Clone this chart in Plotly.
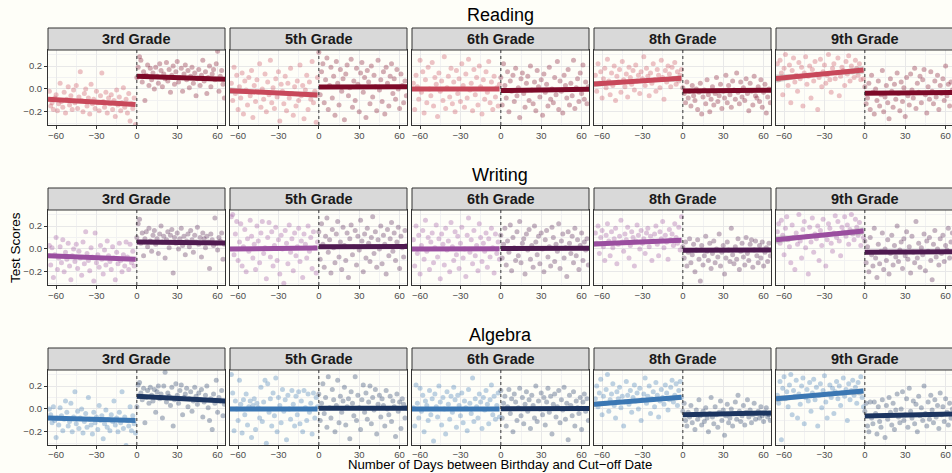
import numpy as np
import plotly.graph_objects as go

# ---------------- data ----------------
subjects = ["Reading", "Writing", "Algebra"]
grades = ["3rd Grade", "5th Grade", "6th Grade", "8th Grade", "9th Grade"]
x_tick_vals = [-60, -30, 0, 30, 60]
x_tick_text = ["\u221260", "\u221230", "0", "30", "60"]
y_tick_vals = [-0.2, 0.0, 0.2]
y_tick_text = ["\u22120.2", "0.0", "0.2"]
days_left = list(range(-65, 0))
days_right = list(range(0, 66))

# scatter values (one point per day), left = before cut-off, right = after
R3L = [-0.02,-0.15,-0.12,-0.18,-0.08,-0.05,-0.19,-0.13,0.05,-0.11,-0.16,-0.03,-0.21,-0.09,0.02,-0.14,-0.06,-0.18,-0.01,-0.12,0.03,-0.17,-0.07,0.15,-0.10,-0.20,-0.04,0.00,-0.15,-0.08,-0.22,0.04,-0.13,-0.09,-0.17,-0.02,-0.12,-0.19,-0.06,0.14,-0.11,-0.16,-0.03,-0.21,-0.08,-0.13,-0.05,-0.18,-0.10,-0.24,-0.01,-0.14,-0.07,-0.19,-0.12,0.01,-0.16,-0.09,-0.21,-0.04,-0.28,-0.13,-0.17,-0.08,-0.31]
R3R = [0.10,0.19,0.28,0.25,0.06,0.15,-0.10,0.12,0.21,0.03,0.18,0.08,0.14,0.00,0.19,0.11,0.05,0.22,0.16,0.02,0.13,0.09,0.23,0.07,0.17,-0.03,0.12,0.20,0.04,0.15,0.24,0.06,0.10,0.18,-0.02,0.13,0.21,0.08,0.16,0.01,0.11,0.19,0.05,0.14,-0.06,0.09,0.17,0.03,0.12,0.25,0.07,0.15,-0.04,0.10,0.20,0.02,0.13,0.17,0.08,0.22,0.33,-0.02,0.11,0.16,0.04,-0.08]
R5L = [0.05,-0.10,0.19,-0.04,0.12,-0.18,0.02,-0.08,0.14,-0.22,0.07,-0.01,-0.14,0.10,-0.06,0.16,-0.25,0.03,-0.11,0.08,-0.03,0.22,-0.16,0.00,-0.09,0.13,-0.20,0.06,-0.05,0.25,-0.12,0.01,-0.17,0.09,-0.07,0.15,-0.28,0.04,-0.02,-0.13,0.11,-0.19,0.05,-0.08,0.18,-0.04,-0.23,0.02,-0.15,0.07,-0.10,0.21,-0.06,0.03,-0.26,-0.01,0.12,-0.18,0.06,-0.09,0.24,-0.12,-0.02,-0.29,0.10]
R5R = [0.32,-0.05,0.15,0.22,-0.12,0.08,0.27,-0.18,0.03,0.19,-0.08,0.11,-0.23,0.24,0.05,-0.14,0.17,-0.02,0.09,-0.27,0.13,0.21,-0.06,0.01,0.26,-0.16,0.07,-0.10,0.18,0.04,-0.20,0.14,0.23,-0.03,0.10,-0.25,0.16,0.06,-0.13,0.20,-0.07,0.12,0.02,-0.19,0.25,-0.01,0.08,-0.11,0.15,-0.22,0.19,0.05,-0.15,0.11,0.22,-0.04,0.09,-0.09,0.17,0.00,-0.17,0.13,0.03,-0.12,0.07,-0.06]
R6L = [0.05,-0.18,0.12,0.02,-0.09,0.25,-0.03,0.15,-0.21,0.08,-0.12,0.19,0.00,-0.06,0.23,-0.15,0.10,0.04,-0.24,0.14,-0.02,0.07,-0.10,0.28,-0.17,0.01,0.11,-0.07,0.18,-0.13,0.06,-0.20,0.16,-0.04,0.09,-0.11,0.22,0.03,-0.16,0.13,-0.08,0.26,-0.01,0.05,-0.19,0.17,-0.05,0.10,-0.14,0.20,0.02,-0.22,0.08,-0.09,0.15,-0.03,0.24,-0.12,0.06,-0.18,0.11,-0.07,0.01,-0.15,0.04]
R6R = [0.10,-0.14,0.22,0.03,-0.08,0.15,-0.20,0.07,-0.02,0.12,-0.11,0.18,-0.06,0.01,-0.25,0.09,0.14,-0.04,-0.16,0.05,0.11,-0.10,0.20,-0.01,-0.13,0.06,-0.19,0.16,0.02,-0.07,0.08,-0.23,0.13,-0.03,0.04,-0.15,0.19,-0.09,0.00,-0.12,0.10,-0.05,0.24,-0.18,0.07,-0.02,-0.21,0.12,0.03,-0.08,0.17,-0.14,0.05,-0.06,0.25,-0.17,0.01,0.09,-0.11,0.14,-0.04,0.21,-0.09,0.06,-0.13,0.02]
R8L = [0.12,-0.02,0.22,0.05,0.15,-0.08,0.09,0.18,0.01,0.26,0.07,-0.05,0.14,0.03,0.20,-0.10,0.11,0.06,0.17,-0.03,0.24,0.08,0.02,0.13,-0.07,0.19,0.10,0.04,0.16,-0.01,0.21,0.07,0.12,-0.04,0.15,0.09,0.28,0.03,0.18,0.11,-0.06,0.14,0.05,0.22,0.08,-0.02,0.17,0.12,0.01,0.25,0.10,-0.09,0.16,0.06,0.20,0.13,0.02,0.19,0.09,0.23,0.04,0.15,0.07,0.12,0.17]
R8R = [0.01,-0.04,-0.12,0.06,-0.08,-0.02,-0.15,0.03,-0.06,-0.10,0.00,-0.18,-0.03,0.05,-0.22,-0.07,-0.01,-0.13,0.08,-0.05,-0.20,-0.09,0.02,-0.14,-0.04,0.10,-0.11,-0.06,0.04,-0.17,-0.02,-0.08,0.12,-0.12,0.03,-0.05,-0.16,0.07,-0.01,-0.09,0.14,-0.03,-0.13,0.06,-0.07,0.01,-0.10,0.09,-0.04,-0.19,0.05,-0.02,-0.14,0.11,-0.06,-0.08,0.02,-0.11,0.08,-0.16,-0.03,0.04,-0.21,-0.07,0.00,-0.12]
R9L = [0.22,0.08,0.25,0.14,-0.05,0.18,0.30,0.10,0.03,0.21,-0.12,0.16,0.27,0.06,0.12,-0.02,0.23,0.09,0.19,-0.15,0.14,0.28,0.04,0.11,0.20,-0.08,0.17,0.07,0.24,0.13,-0.18,0.10,0.26,0.02,0.15,0.21,0.05,0.12,0.30,0.08,-0.03,0.18,0.22,0.09,0.14,0.27,-0.06,0.11,0.19,0.16,0.03,0.24,0.13,0.29,0.07,0.20,0.15,0.10,0.25,0.18,0.12,0.22,0.08,0.16,0.09]
R9R = [0.02,-0.13,-0.08,0.05,-0.18,0.12,-0.03,-0.22,0.00,-0.10,0.07,-0.15,-0.05,0.16,-0.20,-0.07,0.03,-0.12,-0.26,0.09,-0.02,-0.16,0.04,-0.09,0.14,-0.04,-0.19,0.06,-0.11,0.01,-0.24,0.10,-0.06,-0.14,0.13,-0.01,-0.08,0.18,-0.17,0.05,-0.03,0.11,-0.12,0.08,0.17,-0.05,-0.21,0.02,-0.09,0.15,-0.02,-0.13,0.07,-0.07,0.12,-0.18,0.03,-0.04,0.09,-0.10,0.20,-0.06,0.04,-0.15,0.06,-0.01]

W3L = [0.03,-0.14,0.01,-0.25,-0.05,0.10,-0.18,-0.08,0.02,-0.12,0.08,-0.20,-0.03,-0.09,0.05,-0.15,-0.27,-0.06,0.00,-0.11,0.04,-0.17,-0.02,-0.08,-0.23,0.06,-0.13,0.15,-0.04,-0.10,-0.19,0.01,-0.07,-0.28,0.14,-0.12,-0.05,-0.16,0.03,-0.09,-0.22,-0.01,-0.14,0.07,-0.06,-0.11,-0.18,0.02,-0.08,-0.27,-0.03,-0.13,0.05,-0.10,-0.20,-0.05,-0.15,0.06,-0.07,-0.18,0.04,-0.12,-0.02,-0.15,-0.09]
W3R = [0.10,0.22,0.26,0.05,0.14,-0.06,0.09,0.15,0.02,0.18,0.07,-0.02,0.12,0.16,0.04,0.09,-0.04,0.13,0.20,0.06,0.11,-0.08,0.08,0.15,0.01,0.12,0.17,-0.21,0.10,0.05,0.14,0.00,0.09,0.18,0.03,0.11,-0.05,0.07,0.13,0.02,0.16,0.08,-0.03,0.12,0.06,0.19,0.04,0.10,-0.07,0.14,0.09,0.01,0.11,0.06,-0.17,0.13,0.08,0.03,0.27,0.05,-0.01,0.10,0.07,0.14,-0.09,0.04]
W5L = [0.28,0.30,-0.05,0.13,0.24,-0.10,0.06,0.22,-0.15,0.02,0.17,-0.20,0.09,-0.02,0.25,0.11,-0.08,0.04,-0.18,0.20,0.07,-0.12,0.14,0.24,-0.04,0.01,-0.26,0.10,0.23,-0.07,0.15,-0.15,0.03,0.19,-0.10,0.08,-0.22,0.12,0.00,-0.30,0.16,0.05,-0.13,0.21,-0.03,0.09,-0.19,0.14,-0.06,0.02,0.18,-0.11,0.07,-0.25,0.13,0.04,-0.08,0.20,-0.02,0.10,-0.17,0.15,0.01,-0.21,0.06]
W5R = [0.15,-0.09,0.22,0.04,-0.16,0.11,0.27,-0.03,0.08,-0.21,0.17,0.01,-0.12,0.13,0.24,-0.07,0.06,-0.18,0.19,0.03,-0.10,0.14,-0.25,0.09,0.21,-0.05,0.02,0.16,-0.14,0.11,-0.01,0.25,0.07,-0.20,0.13,-0.08,0.18,0.05,-0.11,0.10,0.28,-0.04,0.15,-0.16,0.08,0.00,0.20,-0.13,0.12,0.04,-0.22,0.17,-0.06,0.09,0.23,-0.02,0.14,-0.10,0.06,0.19,-0.17,0.11,0.01,-0.07,0.16,0.03]
W6L = [0.08,-0.15,0.20,-0.04,0.12,-0.22,0.03,0.16,-0.09,0.25,-0.02,0.10,-0.18,0.06,0.14,-0.12,0.01,0.21,-0.07,0.09,-0.26,0.13,0.04,-0.14,0.18,-0.01,0.07,-0.20,0.23,0.02,-0.10,0.15,-0.05,0.11,-0.17,0.05,0.19,-0.08,0.00,-0.24,0.12,0.27,-0.03,0.08,-0.13,0.16,-0.06,0.03,-0.19,0.22,0.10,-0.11,0.05,-0.02,0.14,-0.16,0.09,-0.07,0.18,0.01,-0.21,0.13,-0.04,0.06,-0.09]
W6R = [0.12,-0.08,0.04,0.18,-0.14,0.07,-0.03,0.21,-0.19,0.10,0.01,-0.10,0.15,-0.06,0.24,-0.12,0.05,0.09,-0.22,0.13,-0.01,0.17,-0.09,0.03,-0.16,0.20,0.06,-0.05,0.11,-0.13,0.14,0.00,-0.20,0.08,0.16,-0.07,0.02,-0.15,0.19,0.10,-0.11,0.04,-0.02,0.22,-0.17,0.07,0.13,-0.08,0.01,-0.24,0.15,0.05,-0.04,0.11,-0.12,0.18,-0.06,0.08,-0.18,0.03,0.14,-0.10,0.06,-0.01,0.09,-0.14]
W8L = [0.14,0.05,0.20,-0.04,0.10,0.16,0.02,-0.10,0.12,0.22,0.07,-0.06,0.15,0.01,0.09,0.18,-0.13,0.04,0.11,0.25,0.06,-0.02,0.13,0.08,0.19,-0.08,0.03,0.15,0.10,-0.15,0.07,0.21,0.12,0.00,0.16,0.05,0.09,-0.04,0.14,0.18,0.02,0.11,-0.10,0.07,0.13,0.20,0.04,-0.06,0.15,0.09,0.24,0.01,0.12,0.06,-0.09,0.17,0.08,0.13,0.03,0.22,0.10,0.05,0.19,-0.01,0.28]
W8R = [0.02,-0.08,0.06,-0.15,-0.03,0.09,-0.12,-0.05,0.04,-0.20,-0.01,0.08,-0.09,-0.28,0.03,-0.14,-0.06,0.11,-0.02,-0.10,0.05,-0.17,-0.04,0.07,-0.12,0.00,-0.07,0.13,-0.15,-0.03,0.03,-0.22,-0.08,0.06,-0.01,-0.11,0.18,-0.05,-0.13,0.02,-0.09,0.09,-0.18,-0.02,0.05,-0.07,-0.14,0.10,-0.04,-0.10,0.04,0.08,-0.16,-0.01,0.07,-0.06,-0.12,0.03,-0.08,0.06,-0.15,-0.03,0.01,-0.11,0.05,-0.06]
W9L = [0.15,0.22,0.05,0.25,0.12,-0.05,0.18,0.28,0.08,0.02,-0.12,0.21,0.10,-0.18,0.14,0.04,0.30,0.07,-0.08,0.17,0.24,0.01,0.11,-0.22,0.19,0.06,0.27,-0.03,0.13,0.09,0.20,-0.10,0.16,0.03,0.26,0.12,-0.15,0.08,0.22,0.18,0.05,-0.02,0.14,0.29,0.10,0.24,0.07,-0.06,0.19,0.15,0.28,0.11,0.21,0.04,0.17,0.30,0.13,0.08,0.26,0.19,0.12,0.23,0.03,0.16,0.10]
W9R = [0.07,-0.12,0.02,-0.20,0.10,-0.05,-0.15,0.18,-0.08,-0.25,0.04,-0.13,-0.02,0.14,-0.18,0.00,-0.10,0.08,-0.22,-0.04,0.12,-0.14,0.03,-0.07,0.20,-0.11,-0.01,0.06,-0.17,0.09,-0.06,0.15,-0.09,0.02,-0.21,0.11,-0.03,-0.12,0.24,-0.08,0.05,-0.16,0.01,-0.05,0.13,-0.19,0.07,-0.02,0.10,-0.10,-0.27,0.04,0.16,-0.07,0.00,-0.14,0.09,-0.04,0.12,-0.11,0.03,-0.01,0.18,-0.08,0.06,0.14]

A3L = [0.00,-0.05,-0.12,0.02,-0.10,-0.25,-0.08,-0.14,0.01,-0.06,-0.19,-0.09,0.07,-0.03,-0.15,-0.11,0.05,-0.20,-0.07,0.15,-0.13,-0.02,-0.17,-0.08,0.00,-0.21,-0.11,-0.04,-0.16,0.10,-0.09,-0.14,-0.22,-0.03,-0.12,-0.07,-0.18,0.03,-0.10,-0.06,-0.26,-0.13,-0.01,-0.16,-0.09,-0.19,-0.05,-0.11,0.07,-0.14,-0.08,-0.20,-0.03,-0.12,0.15,-0.17,-0.07,-0.32,-0.10,-0.15,0.02,-0.19,-0.06,-0.13,-0.21]
A3R = [0.02,0.21,0.23,0.14,0.08,0.18,-0.12,0.10,0.16,0.05,0.19,0.12,0.07,0.17,-0.03,0.15,0.20,0.09,0.13,-0.08,0.20,0.32,0.06,0.14,0.11,0.03,0.19,-0.15,0.08,0.22,0.12,0.05,0.16,0.21,-0.05,0.10,0.13,0.18,0.02,0.09,0.15,-0.02,0.07,0.19,0.11,0.04,0.14,0.08,0.17,-0.07,0.06,0.12,0.20,0.01,-0.10,0.09,-0.18,0.13,0.05,0.25,-0.03,0.10,0.07,0.16,-0.06,0.04]
A5L = [0.30,0.14,-0.19,0.07,0.00,-0.10,0.25,0.04,-0.21,0.08,-0.05,0.13,-0.14,0.02,0.07,-0.25,0.03,0.09,-0.18,0.05,0.01,-0.08,0.19,-0.11,0.06,0.25,-0.30,0.22,-0.03,0.09,-0.15,0.14,-0.06,0.27,-0.20,0.10,0.03,-0.12,0.17,-0.02,0.08,-0.27,0.12,0.00,-0.09,0.16,0.04,-0.15,0.11,-0.05,0.15,-0.13,0.07,-0.20,0.16,0.01,-0.10,0.13,-0.03,0.05,-0.22,0.14,-0.08,0.10,0.02]
A5R = [0.13,-0.10,0.05,0.22,-0.04,0.10,-0.16,0.28,0.01,-0.08,0.17,0.08,-0.20,0.03,0.25,-0.12,0.11,-0.03,0.07,0.19,-0.14,0.02,0.09,-0.26,0.15,0.05,-0.06,0.28,-0.10,0.12,0.01,-0.18,0.08,0.21,-0.03,0.14,-0.09,0.06,0.20,-0.13,0.10,-0.01,0.17,-0.22,0.04,0.12,-0.07,0.09,0.03,-0.15,0.16,0.00,-0.05,0.11,-0.11,0.07,0.02,-0.24,0.13,-0.02,0.06,-0.17,0.09,0.04,-0.08,0.01]
A6L = [0.01,-0.15,0.21,0.05,-0.08,0.18,-0.02,0.12,-0.20,0.07,0.03,-0.10,0.16,-0.05,0.09,-0.28,0.13,0.02,-0.07,0.20,0.06,-0.14,0.10,0.00,-0.22,0.15,0.04,-0.09,0.11,-0.03,0.19,0.08,-0.16,0.12,0.03,-0.06,0.14,-0.12,0.07,0.01,-0.19,0.17,0.05,-0.04,0.27,-0.11,0.09,0.02,-0.08,0.13,0.06,-0.17,0.10,-0.01,0.16,0.04,-0.13,0.08,0.21,-0.05,0.11,-0.09,0.03,0.14,-0.07]
A6R = [0.16,-0.08,0.05,0.11,-0.15,0.02,0.17,-0.04,0.09,-0.20,0.13,0.06,-0.10,0.01,0.18,-0.06,0.10,-0.13,0.04,0.15,-0.02,0.08,-0.17,0.12,0.03,-0.08,0.20,-0.11,0.07,0.00,0.14,-0.05,0.10,-0.14,0.06,0.18,-0.03,0.11,-0.22,0.04,0.13,-0.07,0.02,0.16,-0.12,0.08,-0.01,0.19,-0.09,0.05,-0.27,0.12,0.03,-0.06,0.15,-0.15,0.07,0.01,-0.04,0.10,-0.18,0.06,0.13,-0.02,0.09,-0.10]
A8L = [0.09,0.20,0.02,0.14,0.26,-0.05,0.11,0.05,0.17,0.30,-0.02,0.08,0.13,0.22,0.03,-0.08,0.15,0.09,0.19,0.01,0.11,-0.15,0.06,0.24,0.12,0.04,0.16,-0.03,0.10,0.21,0.07,0.14,0.00,0.18,-0.10,0.08,0.13,0.27,0.05,0.11,0.20,-0.04,0.09,0.15,0.02,0.23,0.12,-0.07,0.07,0.17,0.10,0.04,0.21,0.14,-0.01,0.08,0.19,0.25,0.06,0.12,0.22,0.03,0.16,0.24,0.10]
A8R = [-0.02,0.05,-0.10,-0.15,-0.03,-0.07,0.03,-0.12,-0.05,-0.18,-0.01,-0.09,0.08,-0.06,-0.14,-0.02,-0.11,0.01,-0.08,-0.20,-0.04,0.10,-0.07,-0.13,0.02,-0.05,-0.16,-0.03,0.07,-0.10,-0.01,-0.23,-0.06,0.04,-0.12,-0.08,0.00,-0.15,-0.04,0.06,-0.09,0.12,-0.02,-0.11,-0.06,0.03,-0.14,-0.03,0.08,-0.07,-0.01,-0.12,-0.05,0.05,-0.09,-0.04,-0.02,-0.08,0.02,-0.06,-0.11,-0.03,0.01,-0.07,-0.05,-0.10]
A9L = [0.12,0.05,0.24,-0.27,0.18,0.28,0.09,0.15,0.02,0.21,0.30,-0.05,0.16,0.11,0.25,-0.08,0.13,0.04,0.20,0.27,-0.13,0.10,0.17,0.07,0.23,-0.02,0.14,0.26,0.08,0.19,-0.15,0.12,0.22,0.01,0.16,0.29,0.06,-0.08,0.13,0.21,0.10,0.18,-0.04,0.15,0.24,0.09,0.20,0.03,0.14,0.27,0.11,0.17,-0.10,0.22,0.08,0.16,0.25,0.12,0.19,0.05,0.23,0.14,0.28,0.10,0.02]
A9R = [-0.02,0.05,-0.15,-0.20,0.06,-0.08,-0.13,0.06,-0.04,-0.22,0.02,-0.11,-0.16,0.08,-0.06,-0.25,0.03,-0.09,0.10,-0.03,-0.14,0.05,-0.18,-0.01,0.13,-0.07,-0.12,0.00,0.15,-0.10,-0.05,0.09,-0.16,0.18,-0.02,-0.08,0.07,-0.13,0.04,-0.20,0.11,-0.06,0.01,-0.10,0.20,-0.04,-0.15,0.06,-0.09,0.12,-0.01,-0.12,0.08,-0.07,0.03,-0.17,0.14,-0.05,0.02,-0.11,0.09,-0.03,-0.14,0.05,-0.08,0.00]

points_left = {"Reading": [R3L, R5L, R6L, R8L, R9L],
               "Writing": [W3L, W5L, W6L, W8L, W9L],
               "Algebra": [A3L, A5L, A6L, A8L, A9L]}
points_right = {"Reading": [R3R, R5R, R6R, R8R, R9R],
                "Writing": [W3R, W5R, W6R, W8R, W9R],
                "Algebra": [A3R, A5R, A6R, A8R, A9R]}

# fitted lines: value at segment start / end, per grade
fit_days_left = [-66, -1]
fit_days_right = [0, 66]
reading_left_start = [-0.090, -0.015, 0.000, 0.042, 0.090]
reading_left_end = [-0.137, -0.052, 0.000, 0.093, 0.165]
reading_right_start = [0.110, 0.017, -0.014, -0.017, -0.037]
reading_right_end = [0.084, 0.020, -0.003, -0.012, -0.030]
writing_left_start = [-0.060, 0.000, 0.000, 0.042, 0.080]
writing_left_end = [-0.090, 0.008, 0.002, 0.075, 0.156]
writing_right_start = [0.060, 0.020, 0.004, -0.012, -0.030]
writing_right_end = [0.052, 0.022, 0.006, -0.010, -0.025]
algebra_left_start = [-0.080, 0.000, 0.000, 0.040, 0.088]
algebra_left_end = [-0.100, 0.000, 0.000, 0.103, 0.156]
algebra_right_start = [0.110, 0.005, 0.002, -0.050, -0.062]
algebra_right_end = [0.068, 0.005, 0.003, -0.035, -0.044]
# confidence band half-width at the segment ends
reading_ci_left = [0.018, 0.030, 0.018, 0.028, 0.035]
reading_ci_right = [0.018, 0.018, 0.018, 0.018, 0.018]
writing_ci_left = [0.018, 0.018, 0.018, 0.022, 0.035]
writing_ci_right = [0.018, 0.018, 0.018, 0.018, 0.018]
algebra_ci_left = [0.018, 0.018, 0.018, 0.025, 0.030]
algebra_ci_right = [0.018, 0.018, 0.018, 0.018, 0.018]
ci_mid = 0.010

fits = {
    "Reading": (reading_left_start, reading_left_end, reading_right_start, reading_right_end, reading_ci_left, reading_ci_right),
    "Writing": (writing_left_start, writing_left_end, writing_right_start, writing_right_end, writing_ci_left, writing_ci_right),
    "Algebra": (algebra_left_start, algebra_left_end, algebra_right_start, algebra_right_end, algebra_ci_left, algebra_ci_right),
}

colors = {  # (light line, dark line)
    "Reading": ("#c8485a", "#7d0a28"),
    "Writing": ("#9a4e9f", "#4f1a50"),
    "Algebra": ("#3b77b3", "#1c3560"),
}

# ---------------- layout geometry ----------------
W, H = 952, 473
col_left = [48, 230, 412, 594, 776]
panel_w = 177
row_top = [50, 210, 370]
panel_h = 75
strip_h = 22
x_range = [-66.0, 65.5]
y_range = [-0.315, 0.34]
px_per_day = panel_w / (x_range[1] - x_range[0])
bg = "#fefef8"
FONT = "Liberation Sans, Arial, sans-serif"


def hexrgba(h, a):
    h = h.lstrip("#")
    return "rgba(%d,%d,%d,%.3f)" % (int(h[0:2], 16), int(h[2:4], 16), int(h[4:6], 16), a)


fig = go.Figure()
layout = {}
shapes = []
annotations = []

for r, subj in enumerate(subjects):
    light, dark = colors[subj]
    ls, le, rs, re_, cil, cir = fits[subj]
    for c, grade in enumerate(grades):
        k = r * 5 + c + 1
        sfx = "" if k == 1 else str(k)
        xa, ya = "x" + sfx, "y" + sfx
        x0p = col_left[c]
        x1p = min(W, x0p + panel_w)
        xr = [x_range[0], x_range[0] + (x1p - x0p) / px_per_day]
        layout["xaxis" + sfx] = dict(
            domain=[x0p / W, x1p / W], anchor=ya, range=xr,
            tickvals=x_tick_vals, ticktext=x_tick_text,
            ticks="outside", ticklen=3, tickcolor="#333333", tickwidth=1,
            ticklabelstandoff=(-2 if r == 2 else -1),
            tickfont=dict(size=9.5, color="#4d4d4d", family=FONT),
            showgrid=True, gridcolor="#e8e8e8", gridwidth=1,
            minor=dict(tickvals=[-45, -15, 15, 45], showgrid=True, gridcolor="#f2f2f2", gridwidth=0.6, ticks=""),
            zeroline=False, showline=True, mirror=True, linecolor="#333333", linewidth=1,
            fixedrange=True,
        )
        layout["yaxis" + sfx] = dict(
            domain=[1 - (row_top[r] + panel_h) / H, 1 - row_top[r] / H], anchor=xa, range=y_range,
            tickvals=y_tick_vals, ticktext=y_tick_text, showticklabels=(c == 0),
            ticks="outside" if c == 0 else "", ticklen=3, tickcolor="#333333", tickwidth=1,
            tickfont=dict(size=9.5, color="#4d4d4d", family=FONT),
            showgrid=True, gridcolor="#e8e8e8", gridwidth=1,
            minor=dict(tickvals=[-0.3, -0.1, 0.1, 0.3], showgrid=True, gridcolor="#f2f2f2", gridwidth=0.6, ticks=""),
            zeroline=False, showline=True, mirror=True, linecolor="#333333", linewidth=1,
            fixedrange=True,
        )

        yl = points_left[subj][c]
        yr = points_right[subj][c]
        xl = days_left[len(days_left) - len(yl):]
        xrr = days_right[:len(yr)]
        fig.add_trace(go.Scatter(x=xl, y=yl, mode="markers", xaxis=xa, yaxis=ya,
                                 marker=dict(size=5, color=hexrgba(light, 0.33), line=dict(width=0)),
                                 showlegend=False, hoverinfo="skip", cliponaxis=True))
        fig.add_trace(go.Scatter(x=xrr, y=yr, mode="markers", xaxis=xa, yaxis=ya,
                                 marker=dict(size=5, color=hexrgba(dark, 0.33), line=dict(width=0)),
                                 showlegend=False, hoverinfo="skip", cliponaxis=True))

        for (xs, ys, ci, col) in [
            (fit_days_left, [ls[c], le[c]], cil[c], light),
            (fit_days_right, [rs[c], re_[c]], cir[c], dark),
        ]:
            # confidence ribbon (widening toward the segment ends)
            xx = np.linspace(xs[0], xs[1], 40)
            yy = np.interp(xx, xs, ys)
            xc = (xs[0] + xs[1]) / 2.0
            hw = (xs[1] - xs[0]) / 2.0
            half = np.sqrt(ci_mid ** 2 + (ci ** 2 - ci_mid ** 2) * ((xx - xc) / hw) ** 2)
            fig.add_trace(go.Scatter(x=np.concatenate([xx, xx[::-1]]),
                                     y=np.concatenate([yy + half, (yy - half)[::-1]]),
                                     mode="lines", fill="toself", fillcolor="rgba(153,153,153,0.4)",
                                     line=dict(width=0), xaxis=xa, yaxis=ya,
                                     showlegend=False, hoverinfo="skip"))
            fig.add_trace(go.Scatter(x=xs, y=ys, mode="lines", xaxis=xa, yaxis=ya,
                                     line=dict(color=col, width=5), showlegend=False, hoverinfo="skip"))

        # dotted cut-off line
        shapes.append(dict(type="line", xref=xa, yref=ya + " domain", x0=0, x1=0, y0=0, y1=1,
                           line=dict(color="#333333", width=1, dash="dot"), layer="above"))
        # facet strip
        top = row_top[r] - strip_h
        shapes.append(dict(type="rect", xref="paper", yref="paper",
                           x0=x0p / W, x1=(x0p + panel_w) / W,
                           y0=1 - row_top[r] / H, y1=1 - top / H,
                           fillcolor="#d9d9d9", line=dict(color="#333333", width=1), layer="above"))
        annotations.append(dict(text="<b>%s</b>" % grade, xref="paper", yref="paper",
                                x=(x0p + panel_w / 2) / W, y=1 - (top + strip_h / 2) / H,
                                xanchor="center", yanchor="middle", showarrow=False,
                                font=dict(size=14.5, color="#1a1a1a", family=FONT)))

    # subject title
    annotations.append(dict(text=subj, xref="paper", yref="paper", x=500 / W,
                            y=1 - (row_top[r] - 35) / H, xanchor="center", yanchor="middle",
                            showarrow=False,
                            font=dict(size=18, color="#000000", family=FONT)))

annotations.append(dict(text="Test Scores", xref="paper", yref="paper", x=15 / W, y=1 - 248 / H,
                        xanchor="center", yanchor="middle", textangle=-90, showarrow=False,
                        font=dict(size=13.5, color="#000000", family=FONT)))
annotations.append(dict(text="Number of Days between Birthday and Cut\u2212off Date", xref="paper", yref="paper",
                        x=500 / W, y=0, xanchor="center", yanchor="bottom", borderpad=0,
                        showarrow=False, font=dict(size=13.2, color="#000000", family=FONT)))

fig.update_layout(
    width=W, height=H, margin=dict(l=0, r=0, t=0, b=0),
    paper_bgcolor=bg, plot_bgcolor=bg,
    shapes=shapes, annotations=annotations, showlegend=False,
    **layout,
)

fig.write_html("out.html", config={"displayModeBar": False},
               post_script="document.body.style.margin='0px';document.body.style.overflow='hidden';")
